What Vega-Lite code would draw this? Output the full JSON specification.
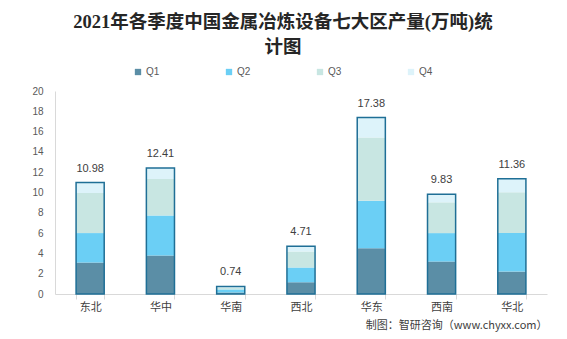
{
  "$schema": "https://vega.github.io/schema/vega-lite/v6.json",
  "width": 492,
  "height": 203,
  "autosize": {"type": "none"},
  "padding": {"left": 55, "top": 91, "right": 20, "bottom": 45},
  "background": "white",
  "title": {
    "text": ["2021年各季度中国金属冶炼设备七大区产量(万吨)统", "计图"],
    "font": "Liberation Serif, Noto Sans CJK SC",
    "fontSize": 18.5,
    "fontWeight": "bold",
    "color": "#262626",
    "lineHeight": 25,
    "anchor": "middle",
    "dx": -18,
    "offset": 11
  },
  "data": {
    "values": [
      {"region": "东北", "q": "Q1", "value": 3.10},
      {"region": "东北", "q": "Q2", "value": 2.90},
      {"region": "东北", "q": "Q3", "value": 3.95},
      {"region": "东北", "q": "Q4", "value": 1.03},
      {"region": "华中", "q": "Q1", "value": 3.79},
      {"region": "华中", "q": "Q2", "value": 3.95},
      {"region": "华中", "q": "Q3", "value": 3.59},
      {"region": "华中", "q": "Q4", "value": 1.08},
      {"region": "华南", "q": "Q1", "value": 0.15},
      {"region": "华南", "q": "Q2", "value": 0.30},
      {"region": "华南", "q": "Q3", "value": 0.15},
      {"region": "华南", "q": "Q4", "value": 0.14},
      {"region": "西北", "q": "Q1", "value": 1.15},
      {"region": "西北", "q": "Q2", "value": 1.45},
      {"region": "西北", "q": "Q3", "value": 1.58},
      {"region": "西北", "q": "Q4", "value": 0.53},
      {"region": "华东", "q": "Q1", "value": 4.51},
      {"region": "华东", "q": "Q2", "value": 4.68},
      {"region": "华东", "q": "Q3", "value": 6.23},
      {"region": "华东", "q": "Q4", "value": 1.96},
      {"region": "西南", "q": "Q1", "value": 3.20},
      {"region": "西南", "q": "Q2", "value": 2.80},
      {"region": "西南", "q": "Q3", "value": 3.03},
      {"region": "西南", "q": "Q4", "value": 0.80},
      {"region": "华北", "q": "Q1", "value": 2.21},
      {"region": "华北", "q": "Q2", "value": 3.79},
      {"region": "华北", "q": "Q3", "value": 4.02},
      {"region": "华北", "q": "Q4", "value": 1.34}
    ]
  },
  "encoding": {
    "x": {
      "field": "region",
      "type": "nominal",
      "sort": ["东北", "华中", "华南", "西北", "华东", "西南", "华北"],
      "scale": {"paddingInner": 0.6, "paddingOuter": 0.3},
      "axis": {
        "title": "制图：智研咨询（www.chyxx.com）",
        "titleAnchor": "end",
        "titleAlign": "right",
        "titleFont": "Noto Sans CJK SC",
        "titleFontSize": 11,
        "titleFontWeight": "normal",
        "titleColor": "#404040",
        "titlePadding": 7,
        "labelAngle": 0,
        "labelFont": "Noto Sans CJK SC",
        "labelFontSize": 11,
        "labelColor": "#404040",
        "labelPadding": 2,
        "tickBand": "extent",
        "tickSize": 5,
        "tickColor": "#d9d9d9",
        "domainColor": "#d9d9d9"
      }
    }
  },
  "layer": [
    {
      "mark": {"type": "bar"},
      "encoding": {
        "y": {
          "field": "value",
          "type": "quantitative",
          "stack": "zero",
          "scale": {"domain": [0, 20]},
          "axis": {"title": null}
        },
        "color": {
          "field": "q",
          "type": "nominal",
          "scale": {
            "domain": ["Q1", "Q2", "Q3", "Q4"],
            "range": ["#5b8ea6", "#6bcff5", "#c8e6e2", "#ddf3fa"]
          },
          "legend": {
            "title": null,
            "orient": "none",
            "direction": "horizontal",
            "legendX": 78,
            "legendY": -24,
            "symbolType": "square",
            "symbolSize": 40,
            "symbolStrokeWidth": 0,
            "labelFont": "Liberation Sans",
            "labelFontSize": 10,
            "labelColor": "#595959",
            "labelOffset": 3,
            "columnPadding": 64
          }
        },
        "order": {"field": "q", "sort": "ascending"}
      }
    },
    {
      "mark": {"type": "bar", "fill": null, "fillOpacity": 0, "stroke": "#1f6f96", "strokeWidth": 1.5},
      "encoding": {
        "y": {"aggregate": "sum", "field": "value", "type": "quantitative", "axis": {"title": null}}
      }
    },
    {
      "mark": {"type": "text", "baseline": "bottom", "dy": -9, "font": "Liberation Sans", "fontSize": 11, "color": "#404040"},
      "encoding": {
        "y": {"aggregate": "sum", "field": "value", "type": "quantitative", "axis": {"title": null}},
        "text": {"aggregate": "sum", "field": "value", "type": "quantitative", "format": ".2f"}
      }
    }
  ],
  "config": {
    "view": {"stroke": null},
    "axisY": {
      "values": [0, 2, 4, 6, 8, 10, 12, 14, 16, 18, 20],
      "tickCount": 10,
      "labelOverlap": false,
      "grid": false,
      "ticks": false,
      "labelPadding": 12,
      "labelFont": "Liberation Sans",
      "labelFontSize": 10,
      "labelColor": "#595959",
      "domainColor": "#d9d9d9"
    }
  }
}
